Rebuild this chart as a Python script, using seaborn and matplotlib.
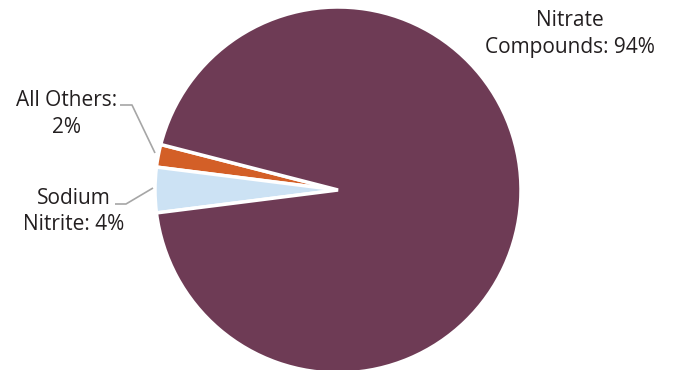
import matplotlib.pyplot as plt
import seaborn as sns

# --- data ---
labels = ["All Others", "Sodium Nitrite", "Nitrate Compounds"]
shares = [2, 4, 94]
colors = ["#D35F27", "#CCE2F4", "#6E3B55"]

sns.set_theme(style="white")
plt.rcParams["font.family"] = ["Open Sans", "DejaVu Sans"]

fig = plt.figure(figsize=(6.75, 3.7), dpi=100)
ax = fig.add_axes([0, 0, 1, 1])

# sodium nitrite slice centred on the left horizontal
start = 180 - 360 * (shares[0] + shares[1] / 2) / 100
ax.pie(
    shares,
    colors=colors,
    startangle=start,
    counterclock=True,
    center=(338, -190),
    radius=183,
    wedgeprops=dict(edgecolor="white", linewidth=2.5),
)
ax.set_xlim(0, 675)
ax.set_ylim(-370, 0)
ax.set_aspect("equal")
ax.axis("off")

txt = dict(fontsize=15, color="#231F20", ha="center", va="center", linespacing=1.32)
ax.text(570, -34, "Nitrate\nCompounds: 94%", **txt)
ax.text(66.5, -114, "All Others:\n2%", **txt)
ax.text(73.5, -211.5, "Sodium\nNitrite: 4%", **txt)

line = dict(color="#A6A6A6", lw=1.2, solid_capstyle="butt")
ax.plot([120, 132, 155], [-105, -105, -153], **line)
ax.plot([115, 126, 153], [-204, -204, -188], **line)

fig.savefig("out.png", dpi=100)
